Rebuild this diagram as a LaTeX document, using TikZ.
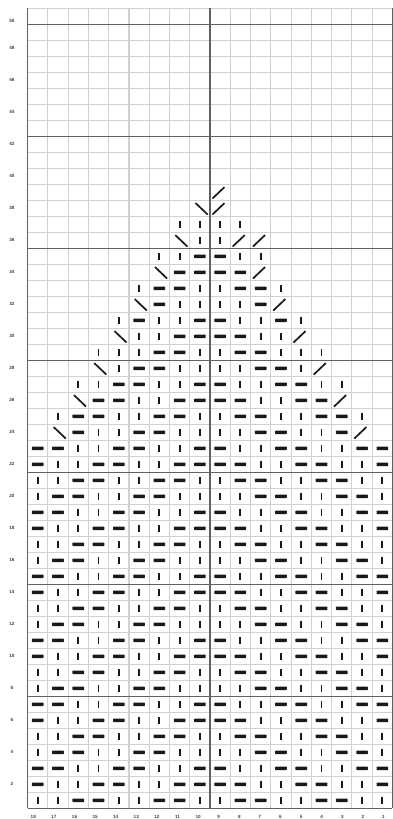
\documentclass[tikz,border=0pt]{standalone}
\usepackage{fontspec}
\setmainfont{Liberation Sans}
\definecolor{gridlight}{gray}{0.82}
\definecolor{griddark}{gray}{0.38}
\tikzset{
  lightline/.style={draw=gridlight,line width=1.1pt},
  darkline/.style={draw=griddark,line width=1.2pt},
  symfill/.style={fill=black!90},
  diag/.style={draw=black!90,line width=1.7pt},
  lab/.style={font=\fontsize{4.6}{5}\selectfont\bfseries,text=black!75,inner sep=0pt}
}
% stitch symbols
\newcommand\symK[2]{\fill[symfill] ({#1-0.95},{#2-3.6}) rectangle ({#1+0.95},{#2+3.6});}
\newcommand\symP[2]{\fill[symfill,rounded corners=0.6pt] ({#1-5.8},{#2-1.75}) rectangle ({#1+5.8},{#2+1.75});}
\newcommand\symL[2]{\draw[diag] ({#1-4.3},{#2-5.2}) -- ({#1+7.8},{#2+6.3});}
\newcommand\symR[2]{\draw[diag] ({#1-7.8},{#2+6.3}) -- ({#1+4.3},{#2-5.2});}
\newcommand\symE[2]{}
% base patterns by row mod 4 (columns 18 ... 1)
\expandafter\def\csname pm0\endcsname{K,P,P,K,K,P,P,K,K,K,K,P,P,K,K,P,P,K}
\expandafter\def\csname pm1\endcsname{K,K,P,P,K,K,P,P,K,K,P,P,K,K,P,P,K,K}
\expandafter\def\csname pm2\endcsname{P,K,K,P,P,K,K,P,P,P,P,K,K,P,P,K,K,P}
\expandafter\def\csname pm3\endcsname{P,P,K,K,P,P,K,K,P,P,K,K,P,P,K,K,P,P}
\expandafter\def\csname pr24\endcsname{E,L,P,K,K,P,P,K,K,K,K,P,P,K,K,P,R,E}
\expandafter\def\csname pr25\endcsname{E,K,P,P,K,K,P,P,K,K,P,P,K,K,P,P,K,E}
\expandafter\def\csname pr26\endcsname{E,E,L,P,P,K,K,P,P,P,P,K,K,P,P,R,E,E}
\expandafter\def\csname pr27\endcsname{E,E,K,K,P,P,K,K,P,P,K,K,P,P,K,K,E,E}
\expandafter\def\csname pr28\endcsname{E,E,E,L,K,P,P,K,K,K,K,P,P,K,R,E,E,E}
\expandafter\def\csname pr29\endcsname{E,E,E,K,K,K,P,P,K,K,P,P,K,K,K,E,E,E}
\expandafter\def\csname pr30\endcsname{E,E,E,E,L,K,K,P,P,P,P,K,K,R,E,E,E,E}
\expandafter\def\csname pr31\endcsname{E,E,E,E,K,P,K,K,P,P,K,K,P,K,E,E,E,E}
\expandafter\def\csname pr32\endcsname{E,E,E,E,E,L,P,K,K,K,K,P,R,E,E,E,E,E}
\expandafter\def\csname pr33\endcsname{E,E,E,E,E,K,P,P,K,K,P,P,K,E,E,E,E,E}
\expandafter\def\csname pr34\endcsname{E,E,E,E,E,E,L,P,P,P,P,R,E,E,E,E,E,E}
\expandafter\def\csname pr35\endcsname{E,E,E,E,E,E,K,K,P,P,K,K,E,E,E,E,E,E}
\expandafter\def\csname pr36\endcsname{E,E,E,E,E,E,E,L,K,K,R,R,E,E,E,E,E,E}
\expandafter\def\csname pr37\endcsname{E,E,E,E,E,E,E,K,K,K,K,E,E,E,E,E,E,E}
\expandafter\def\csname pr38\endcsname{E,E,E,E,E,E,E,E,L,R,E,E,E,E,E,E,E,E}
\expandafter\def\csname pr39\endcsname{E,E,E,E,E,E,E,E,E,R,E,E,E,E,E,E,E,E}
\begin{document}
\foreach \r in {1,...,23}{%
  \pgfmathtruncatemacro\m{mod(\r,4)}%
  \expandafter\xdef\csname pr\r\endcsname{\csname pm\m\endcsname}%
}%
\begin{tikzpicture}[x=1pt,y=-1pt]
\def\xo{27.6}\def\cw{20.27}\def\yo{8.3}\def\rh{16}
\useasboundingbox (0,0) rectangle (393,819);
\fill[white] (0,0) rectangle (393,819);
% light grid
\foreach \k in {0,...,18}
  \draw[lightline] ({\xo+\k*\cw},\yo) -- ({\xo+\k*\cw},{\yo+50*\rh});
\foreach \j in {0,...,50}
  \draw[lightline] (\xo,{\yo+\j*\rh}) -- ({\xo+18*\cw},{\yo+\j*\rh});
% dark rules every 7 rows and the centre line
\foreach \j in {1,8,15,22,29,36,43,50}
  \draw[darkline] (\xo,{\yo+\j*\rh}) -- ({\xo+18*\cw},{\yo+\j*\rh});
\foreach \k in {0,9,18}
  \draw[darkline] ({\xo+\k*\cw},\yo) -- ({\xo+\k*\cw},{\yo+50*\rh});
% stitches
\foreach \r in {1,...,39}{%
  \edef\lst{\csname pr\r\endcsname}%
  \pgfmathsetmacro\cy{\yo+(50-\r+0.5)*\rh}%
  \foreach \t [count=\i from 0] in \lst {%
    \pgfmathsetmacro\cx{\xo+(\i+0.5)*\cw}%
    \csname sym\t\endcsname{\cx}{\cy}%
  }%
}
% row numbers
\foreach \r in {2,4,...,48}
  \node[lab] (l\r) at (12,{\yo+(50-\r+0.5)*\rh}) {\r};
\node[lab] (l50) at (12,21) {50};
% column numbers
\foreach \c in {1,...,18}
  \node[lab] (b\c) at ({33.3+(18-\c)*20.6},816.5) {\c};
\end{tikzpicture}
\end{document}
